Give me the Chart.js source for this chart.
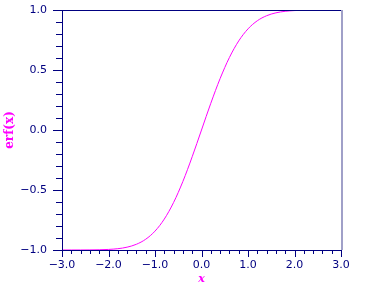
<!DOCTYPE html>
<html>
<head>
<meta charset="utf-8">
<title>erf(x)</title>
<script src="https://cdn.jsdelivr.net/npm/chart.js"></script>
<style>
  html, body { margin: 0; padding: 0; background: #fff; }
  #wrap { width: 369px; height: 292px; position: relative; }
</style>
</head>
<body>
<div id="wrap"><canvas id="c"></canvas></div>
<script>
// data (error function)
const xValues = [-3.0, -2.8, -2.6, -2.4, -2.2, -2.0, -1.8, -1.6, -1.4, -1.2, -1.0, -0.8, -0.6, -0.4, -0.2,
  0.0, 0.2, 0.4, 0.6, 0.8, 1.0, 1.2, 1.4, 1.6, 1.8, 2.0, 2.2, 2.4, 2.6, 2.8, 3.0];
const erfValues = [-1.0, -0.9999, -0.9998, -0.9993, -0.9981, -0.9953, -0.9891, -0.9764, -0.9523, -0.9103,
  -0.8427, -0.7421, -0.6039, -0.4284, -0.2227, 0.0, 0.2227, 0.4284, 0.6039, 0.7421, 0.8427, 0.9103,
  0.9523, 0.9764, 0.9891, 0.9953, 0.9981, 0.9993, 0.9998, 0.9999, 1.0];
const xTicks = [-3, -2, -1, 0, 1, 2, 3];
const yTicks = [-1, -0.5, 0, 0.5, 1];

const navy = '#000080';
const magenta = '#ff00ff';

function fmt(v) {
  return (v < 0 ? '\u2212' : '') + Math.abs(v).toFixed(1);
}

// frame and minor/major tick marks
const framePlugin = {
  id: 'frame',
  afterDraw(chart) {
    const ctx = chart.ctx;
    const a = chart.chartArea;
    const xs = chart.scales.x, ys = chart.scales.y;
    ctx.save();
    ctx.strokeStyle = navy;
    ctx.lineWidth = 1;
    ctx.beginPath();
    for (let i = 0; i <= 30; i++) {
      const v = -3 + i * 0.2;
      const px = Math.round(xs.getPixelForValue(v)) + 0.5;
      const len = i % 5 === 0 ? 7 : 4;
      ctx.moveTo(px, a.bottom);
      ctx.lineTo(px, a.bottom + len);
    }
    for (let i = 0; i <= 20; i++) {
      const v = -1 + i * 0.1;
      const py = Math.round(ys.getPixelForValue(v)) + 0.5;
      const len = i % 5 === 0 ? 9 : 6;
      ctx.moveTo(a.left, py);
      ctx.lineTo(a.left - len, py);
    }
    ctx.stroke();

    ctx.beginPath();
    ctx.moveTo(a.left + 0.5, a.top);
    ctx.lineTo(a.left + 0.5, a.bottom);
    ctx.moveTo(a.left, a.bottom + 0.5);
    ctx.lineTo(a.right, a.bottom + 0.5);
    ctx.moveTo(a.left, a.top + 0.5);
    ctx.lineTo(a.right, a.top + 0.5);
    ctx.stroke();

    ctx.strokeStyle = '#a0a0c8';
    ctx.lineWidth = 2;
    ctx.beginPath();
    ctx.moveTo(a.right + 1, a.top);
    ctx.lineTo(a.right + 1, a.bottom);
    ctx.stroke();
    ctx.restore();
  }
};

new Chart(document.getElementById('c'), {
  type: 'line',
  data: {
    datasets: [{
      data: xValues.map((x, i) => ({ x: x, y: erfValues[i] })),
      borderColor: magenta,
      borderWidth: 1,
      pointRadius: 0,
      cubicInterpolationMode: 'monotone',
      fill: false
    }]
  },
  options: {
    responsive: true,
    maintainAspectRatio: false,
    animation: false,
    layout: { padding: { top: 10, right: 28, left: 0, bottom: 0 } },
    plugins: { legend: { display: false }, tooltip: { enabled: false } },
    scales: {
      x: {
        type: 'linear',
        min: -3, max: 3,
        afterBuildTicks: s => { s.ticks = xTicks.map(v => ({ value: v })); },
        afterFit: s => { s.height = 42; s.paddingLeft = 0; s.paddingRight = 0; },
        grid: { display: false, drawTicks: false },
        border: { display: false },
        ticks: {
          padding: 9,
          color: navy,
          maxRotation: 0,
          font: { family: 'DejaVu Sans', size: 11 },
          callback: v => fmt(v)
        },
        title: {
          display: true,
          text: 'x',
          color: magenta,
          padding: { top: 0, bottom: 6 },
          font: { family: 'DejaVu Serif', style: 'italic', weight: 'bold', size: 11 }
        }
      },
      y: {
        type: 'linear',
        min: -1, max: 1,
        afterBuildTicks: s => { s.ticks = yTicks.map(v => ({ value: v })); },
        afterFit: s => { s.width = 62; s.paddingTop = 0; s.paddingBottom = 0; },
        grid: { display: false, drawTicks: false },
        border: { display: false },
        ticks: {
          padding: 15,
          color: navy,
          font: { family: 'DejaVu Sans', size: 11 },
          callback: v => fmt(v)
        },
        title: {
          display: true,
          text: 'erf(x)',
          color: magenta,
          padding: { top: 3, bottom: 0 },
          font: { family: 'DejaVu Serif', weight: 'bold', size: 12 }
        }
      }
    }
  },
  plugins: [framePlugin]
});
</script>
</body>
</html>
